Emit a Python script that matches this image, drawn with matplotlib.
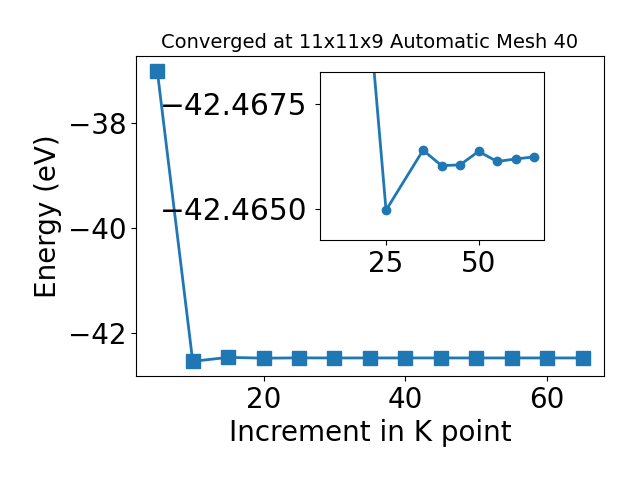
import matplotlib
matplotlib.use("Agg")
import matplotlib.pyplot as plt

# main data
kpoints = [5, 10, 15, 20, 25, 30, 35, 40, 45, 50, 55, 60, 65]
energies = [-37.01, -42.53, -42.455, -42.4701, -42.46496, -42.4662, -42.46639,
            -42.46602, -42.46604, -42.46636, -42.46612, -42.46618, -42.46623]

# inset data
inset_k = [10, 15, 20, 25, 35, 40, 45, 50, 55, 60, 65]
inset_e = [-42.53, -42.472, -42.4701, -42.46496, -42.46639, -42.46602,
           -42.46604, -42.46636, -42.46612, -42.46618, -42.46623]

inset_yticks = [-42.4675, -42.4650]
inset_xticks = [25, 50]

fig = plt.figure(figsize=(6.4, 4.8), dpi=100)
ax = fig.add_axes([0.2125, 0.217, 0.731, 0.666])
ax.plot(kpoints, energies, marker='s', markersize=10, linewidth=2, color='#1f77b4')
ax.set_xlabel("Increment in K point", fontsize=20)
ax.set_ylabel("Energy (eV)", fontsize=20)
ax.set_title("Converged at 11x11x9 Automatic Mesh 40", fontsize=14)
ax.tick_params(labelsize=20)
ax.set_yticks([-42, -40, -38])
ax.set_xticks([20, 40, 60])

ins = fig.add_axes([0.5005, 0.5, 0.35, 0.349])
ins.plot(inset_k, inset_e, marker='o', markersize=6, linewidth=2, color='#1f77b4')
ins.set_ylim(-42.46425, -42.46824)
ins.set_yticks(inset_yticks)
ins.ticklabel_format(axis='y', useOffset=False)
ins.set_xticks(inset_xticks)
ins.tick_params(axis='x', labelsize=20)
ins.tick_params(axis='y', labelsize=21.3, pad=6)

fig.savefig("out.png", dpi=100)
